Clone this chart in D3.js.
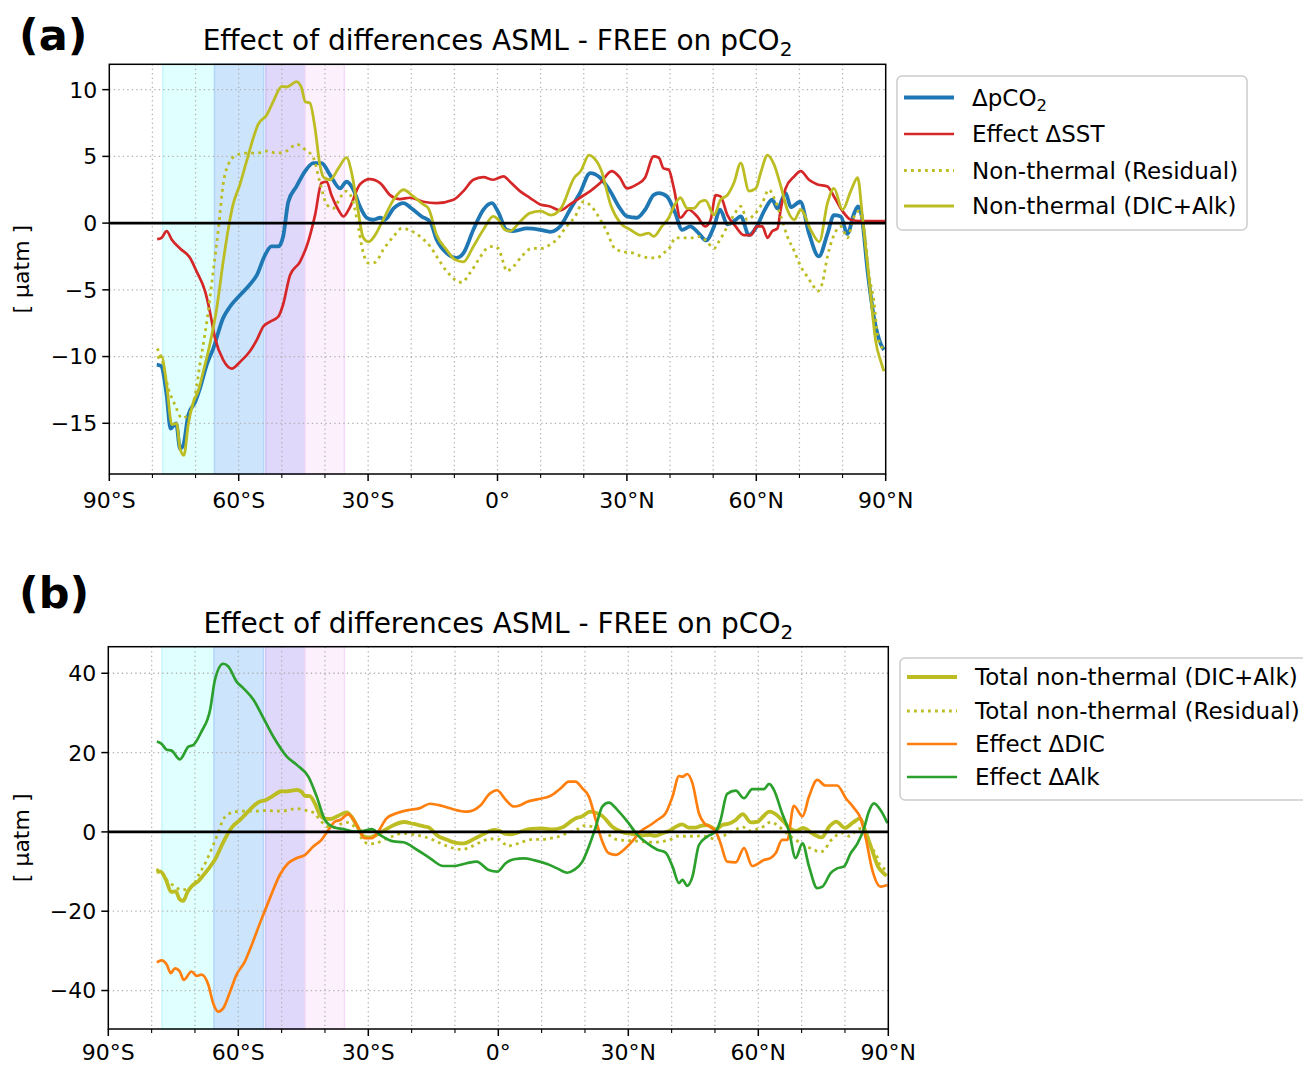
<!DOCTYPE html>
<html><head><meta charset="utf-8">
<script src="https://cdn.jsdelivr.net/npm/d3@7"></script>
<style>body{margin:0;background:#fff}</style>
</head><body><svg id="c" width="1303" height="1066"></svg>
<script>
// ---------- DATA (latitude, value) ----------
const dpco2 = [[-79,-10.6],[-78,-10.7],[-76.7,-12.9],[-75.8,-15.4],[-74.5,-15],[-73.6,-16.9],[-72.8,-16.6],[-71.7,-14.4],[-70.1,-13.4],[-69,-12.4],[-67.4,-10.6],[-65.9,-9.4],[-63.6,-7.1],[-62,-6.25],[-59.7,-5.4],[-57.4,-4.6],[-55.8,-3.9],[-53.9,-2.4],[-52.4,-1.75],[-50.8,-1.75],[-49.7,-1],[-48.5,1.6],[-46.6,2.75],[-44.6,3.9],[-42.7,4.5],[-40.8,4.5],[-38.8,3.6],[-36.5,2.6],[-35,3.1],[-33.4,2.5],[-31.9,1.25],[-30.3,0.4],[-28.8,0.25],[-27.2,0.4],[-26.1,0.25],[-24.1,1.1],[-21.8,1.5],[-19.9,1.1],[-17.6,0.5],[-15.6,0.1],[-14.1,-1.25],[-11.8,-2.25],[-9.5,-2.6],[-7.9,-2.25],[-5.6,-0.5],[-3.3,1.0],[-1.3,1.5],[0.2,0.8],[2.1,-0.5],[3.7,-0.6],[6.8,-0.4],[9.9,-0.5],[12.2,-0.65],[14.5,-0.25],[16.8,1.0],[19.1,2.25],[21.5,3.75],[23.8,3.4],[26.1,2.4],[28.4,1.1],[30,0.5],[32.3,0.4],[34.2,1.0],[36.2,2.1],[37.4,2.25],[39.3,2.0],[41.2,0.75],[42.8,-0.5],[44.7,-0.25],[46.6,-0.75],[48.4,-1.3],[50.2,-0.25],[51.6,1.0],[53.3,-0.1],[55.2,0.25],[56.4,0.5],[58.3,-0.9],[60.2,-0.2],[61.8,0.9],[63.7,1.75],[64.9,1.1],[66.8,2.25],[68,1.2],[70.2,1.6],[72.2,-0.75],[74.5,-2.5],[76.5,-0.8],[78,0.6],[79.6,0.5],[81.1,-0.8],[82.7,0.75],[83.6,1.25],[84.4,0.6],[85.8,-3.6],[87.3,-7.1],[88.9,-9.1],[89.6,-9.5]];

const sstEffect = [[-78.9,-1.2],[-77.9,-1.1],[-76.7,-0.6],[-75.5,-1.25],[-73.6,-1.9],[-71.3,-2.6],[-69.8,-3.6],[-67.8,-5.1],[-66.7,-6.6],[-65.5,-8.6],[-63.6,-10.25],[-61.6,-10.9],[-59.7,-10.4],[-57.4,-9.6],[-55.8,-8.75],[-54.3,-7.75],[-52.8,-7.4],[-50.8,-7.0],[-49.7,-6.1],[-48.1,-3.9],[-45.8,-2.9],[-43.9,-1.4],[-42.3,0.6],[-40.8,3.0],[-39.6,3.1],[-38.5,2.1],[-36.9,1.0],[-35.7,0.5],[-34.2,1.2],[-31.9,2.9],[-29.6,3.3],[-27.2,3.0],[-24.9,2.1],[-22.6,1.8],[-20.3,1.9],[-17.2,1.6],[-14.1,1.5],[-10.2,1.75],[-7.9,2.4],[-5.6,3.25],[-3.3,3.45],[-1,3.25],[1.4,3.5],[2.9,3.1],[5.2,2.4],[7.5,1.9],[9.9,1.4],[12.2,1.25],[14.5,0.95],[16.8,1.4],[19.1,1.9],[21.5,2.4],[23.8,3.0],[26.5,3.9],[28.4,3.4],[30,2.6],[32.3,2.9],[34.2,3.4],[36.2,5.0],[37.4,4.9],[38.5,4.1],[39.7,4.0],[40.9,2.6],[42.4,0.4],[44.3,1.0],[46.3,0.5],[48.2,-0.25],[49.4,0.25],[50.6,2.1],[51.7,2.0],[53.3,0.6],[55.2,-0.25],[57.1,-0.9],[58.7,-0.9],[60.2,-0.25],[61.4,-0.25],[62.6,-1.1],[63.7,-0.6],[64.9,-0.4],[65.7,1.1],[66.8,2.6],[68.8,3.5],[70.3,3.9],[72.2,3.25],[74.2,2.9],[76.5,2.75],[78,2.0],[80,0.9],[81.9,0.25],[84.2,0.15],[90,0.15]];

const nonThermalDicAlk = [[-78.9,-10.1],[-77.9,-10],[-76.7,-12.1],[-75.5,-15.1],[-74.4,-15],[-73.6,-16.9],[-72.7,-17.4],[-71.7,-15.1],[-70.5,-13.4],[-69.4,-12.6],[-68.2,-11.1],[-66.7,-9.1],[-65.1,-6.4],[-63.6,-2.9],[-62.4,-0.4],[-61.3,1.4],[-59.7,2.9],[-58.2,4.6],[-56.6,6.4],[-55.5,7.4],[-53.5,8.1],[-52,9.1],[-50,10.25],[-48.9,10.2],[-47.7,10.4],[-46.6,10.6],[-45.4,10.1],[-44.6,9.1],[-43.5,9.0],[-42.3,7.1],[-41.2,4.4],[-40.2,3.4],[-38.8,3.25],[-36.9,4.1],[-35,4.9],[-33.8,3.75],[-32.6,1.5],[-31.1,-1.1],[-29.9,-1.4],[-28.8,-1.1],[-26.5,0.25],[-24.1,1.75],[-21.8,2.5],[-19.5,2.0],[-17.2,1.4],[-16,1.1],[-14.1,-0.9],[-11.8,-2.0],[-9.8,-2.75],[-7.9,-2.9],[-5.6,-1.75],[-3.3,-0.5],[-1,0.5],[0.2,0.25],[1.7,-0.5],[2.9,-0.6],[5.2,0.1],[7.5,0.75],[10,0.9],[12.4,0.6],[14.7,1.1],[17.8,3.4],[19.3,3.9],[21.2,5.1],[22.3,4.9],[24,4.0],[26.3,1.3],[28.5,0],[30.8,-0.5],[33.1,-0.9],[35,-0.75],[36.2,-1.0],[38.1,-0.25],[39.7,0.4],[40.9,1.25],[42.4,1.9],[44,1.1],[45.5,1.1],[47,1.6],[48.2,1.7],[50.2,0.6],[51.7,1.75],[53.3,2.1],[54.8,3.0],[56.4,4.5],[58.3,2.4],[59.9,2.6],[61,3.75],[62.6,5.1],[64.1,4.4],[65.7,2.75],[67.2,1.0],[68.8,0.25],[70.3,1.0],[72.6,-0.5],[74.6,-1.4],[76.5,1.5],[78,2.6],[80,1.0],[81.9,2.4],[83.5,3.4],[84.6,0.5],[86.2,-4.4],[87.7,-8.9],[88.9,-10.4],[89.6,-11.1]];

const nonThermalResidual = [[-78.9,-9.4],[-77.9,-10.1],[-76.3,-12.4],[-74.8,-13.6],[-73.2,-14.6],[-71.7,-14.4],[-70.1,-12.9],[-69,-10.6],[-67.4,-7.4],[-65.9,-3.6],[-64.7,-0.4],[-63.6,2.9],[-62.4,4.4],[-60.5,5.1],[-58.2,5.25],[-55.8,5.25],[-53.5,5.4],[-51.2,5.25],[-48.9,5.4],[-46.6,5.9],[-44.6,5.5],[-42.7,4.9],[-41.2,3.1],[-39.6,1.4],[-38.1,1.1],[-36.3,2.0],[-35,2.4],[-33.4,1.5],[-32.3,-0.25],[-31.1,-2.25],[-29.9,-3.0],[-28.4,-2.95],[-26.5,-2.0],[-24.1,-1.0],[-22.2,-0.4],[-19.9,-0.6],[-17.6,-1.1],[-15.6,-1.75],[-14.1,-2.5],[-11.8,-3.6],[-9.8,-4.25],[-8.3,-4.45],[-6.4,-3.75],[-4.4,-2.75],[-2.5,-1.9],[-1,-1.75],[0.2,-1.9],[1.4,-3.0],[2.1,-3.6],[3.7,-3.25],[5.6,-2.5],[7.9,-1.9],[10.3,-1.9],[12.2,-1.6],[13.7,-1.25],[16,-0.25],[18,0.5],[19.9,1.6],[21.8,1.25],[23.4,0.5],[25.3,-0.6],[27.2,-1.9],[29.2,-2.15],[31.5,-2.25],[33.5,-2.5],[35.5,-2.6],[37,-2.6],[38.5,-2.25],[40.1,-1.75],[41.2,-1.1],[43.2,-1.1],[45.1,-1.1],[47,-1.0],[48.6,-1.4],[50.2,-1.9],[51.3,-1.4],[53.3,-0.25],[54.8,0.6],[56.4,1.25],[57.9,0.25],[59.4,0.6],[61.4,1.5],[62.9,2.5],[64.1,1.9],[65.7,0.5],[67.2,-1.0],[68.8,-2.1],[70.3,-3.25],[71.8,-4.0],[73,-4.6],[74.2,-5.1],[75.3,-4.5],[76.5,-2.5],[78,-0.9],[79.6,-0.25],[81.1,-1.1],[82.7,0.5],[83.8,0.9],[85,-0.5],[86.2,-4.0],[87.3,-5.9],[88.1,-8.4],[89.3,-9.4]];

const dicEffect = [[-78.8,-32.9],[-77.7,-32.4],[-76.5,-33.5],[-75.6,-35.6],[-74.6,-34.4],[-73.5,-35.2],[-72.6,-37.3],[-70.8,-35.2],[-69.6,-36.3],[-68.5,-36],[-66.9,-38.6],[-65.8,-43.2],[-64.6,-45.3],[-63.5,-44.5],[-61.9,-40.3],[-60.4,-36],[-58.5,-32.7],[-56.9,-28.5],[-55,-23],[-52.7,-16.7],[-50.4,-10.8],[-48.5,-7.9],[-46.5,-6.6],[-44.6,-5.8],[-42.7,-3.7],[-40.8,-2.0],[-39.2,0.5],[-37.7,2.6],[-36.5,3.0],[-34.6,4.5],[-32.7,1.8],[-30.8,-1.6],[-29.2,-1.6],[-27.7,0.1],[-25.8,3.4],[-23.5,4.7],[-20.8,5.5],[-18.1,6.0],[-15.8,7.1],[-13.1,6.6],[-10.4,5.7],[-7.3,5.1],[-4.2,6.6],[-1.9,9.7],[-0.3,10.5],[1.7,8.1],[3.6,6.4],[5.2,6.8],[6.7,7.6],[9,8.2],[12.1,9.1],[14.4,11],[16.3,12.7],[17.8,12.7],[19.4,11],[20.9,8.9],[22.5,3.0],[24,-2.4],[25.5,-5.4],[27.1,-5.8],[29,-4.5],[30.9,-2.4],[32.8,0.1],[35.2,1.8],[36.7,3.0],[38.6,4.7],[40.2,8.9],[41.7,14.1],[42.5,13.9],[43.6,14.6],[44.8,12.3],[46.3,4.7],[47.5,2.2],[49,1.2],[50.2,0.1],[51.3,-2.9],[52.8,-7.5],[54.8,-7.7],[56.7,-4.1],[58.6,-8.6],[61.3,-7.1],[62.8,-6.6],[64,-5.4],[65.5,-2.0],[66.7,-2.0],[68.2,6.6],[70.2,3.9],[71.7,8.9],[73.6,13.1],[75.5,11.7],[78.2,11.7],[80.2,8.5],[82.1,6.0],[83.6,3.4],[84.8,-1.6],[86.3,-9.6],[88.2,-13.8],[89.8,-13.4]];

const alkEffect = [[-78.8,22.8],[-77.7,22.2],[-76.5,20.7],[-75.4,20.5],[-73.5,18.3],[-71.5,21.5],[-70.4,21.9],[-68.5,25.3],[-66.5,30.8],[-65.4,38.3],[-63.5,42.4],[-62.3,41.7],[-60.4,37.9],[-58.8,36.2],[-56.5,33.3],[-54.2,28.7],[-51.9,24],[-48.8,19],[-46.5,16.9],[-43.8,13.9],[-41.9,8.9],[-40,3.0],[-38,1.2],[-35.7,0.7],[-33.4,0.1],[-31.1,0.3],[-29.2,0.7],[-27.3,-0.75],[-24.2,-2.4],[-21.9,-2.6],[-18.8,-4.5],[-15.8,-6.6],[-12.7,-8.6],[-10.4,-8.6],[-7.3,-7.9],[-5,-7.5],[-2.2,-9.6],[-0.2,-10],[1.7,-7.9],[3.6,-6.9],[5.9,-6.7],[8.2,-7.1],[11.3,-8.1],[13.6,-9.2],[15.9,-10.3],[17.5,-9.6],[19.4,-7.5],[20.9,-3.7],[22.5,1.3],[24,6.4],[25.5,7.4],[27.5,5.5],[29.8,2.6],[32.1,-0.75],[34.4,-2.9],[36.7,-4.5],[38.6,-5.2],[40.2,-8.7],[41.7,-12.9],[42.5,-12.1],[43.6,-13.6],[44.8,-11.3],[46.3,-3.3],[48.2,-1.2],[50.2,0.1],[51.3,3.0],[52.8,9.6],[54.8,10.4],[56.7,8.5],[58.6,10.8],[61.3,10.8],[62.5,12.1],[63.6,10.6],[65.5,4.7],[67.1,0.1],[68.6,-6.6],[70.2,-2.9],[71.7,-8.7],[73.6,-14.2],[74.8,-13.8],[76.7,-10.4],[78.2,-9.2],[79.8,-8.7],[81.3,-5.4],[82.9,-2.9],[84.4,0.9],[85.5,5.1],[86.7,7.2],[88.2,5.5],[89.8,2.2]];

// latitude bands (shaded regions)
const bandLats = [[-77.6,-65.6],[-65.6,-54.2],[-53.7,-44.6],[-44.6,-35.5]];
const bandColors = ["#e0ffff","#cce5fd","#e0d8fb","#fcf0fd"];
const bandEdges = ["#c6f9fb","#b5d5f9","#cdc2f6","#f4dcf8"];

const xTickVals = [-90,-60,-30,0,30,60,90];
const xTickLabels = ["90°S","60°S","30°S","0°","30°N","60°N","90°N"];
const yTicksA = [-15,-10,-5,0,5,10];
const yTicksB = [-40,-20,0,20,40];

const svg = d3.select("#c").attr("font-family","DejaVu Sans, sans-serif");
svg.append("rect").attr("width",1303).attr("height",1066).attr("fill","#fff");

let clipId = 0;
function panel(cfg){
  const x = d3.scaleLinear().domain([-90,90]).range([cfg.x0,cfg.x1]);
  const y = d3.scaleLinear().domain(cfg.ydom).range([cfg.y1,cfg.y0]);
  const g = svg.append("g");
  const cid = "clip"+(clipId++);
  g.append("clipPath").attr("id",cid).append("rect")
    .attr("x",cfg.x0).attr("y",cfg.y0).attr("width",cfg.x1-cfg.x0).attr("height",cfg.y1-cfg.y0);
  // bands
  bandLats.forEach((b,i)=>{
    g.append("rect").attr("x",x(b[0])).attr("width",x(b[1])-x(b[0]))
      .attr("y",cfg.y0).attr("height",cfg.y1-cfg.y0)
      .attr("fill",bandColors[i]).attr("stroke",bandEdges[i]).attr("stroke-width",1.5);
  });
  // grid
  const gridStyle = s=>s.attr("stroke","#b0b0b0").attr("stroke-width",1.3).attr("stroke-dasharray","1.3,3.2");
  d3.range(-80,90,10).forEach(v=>{
    g.append("line").attr("x1",x(v)).attr("x2",x(v)).attr("y1",cfg.y0).attr("y2",cfg.y1).call(gridStyle);
  });
  cfg.yticks.forEach(v=>{
    g.append("line").attr("x1",cfg.x0).attr("x2",cfg.x1).attr("y1",y(v)).attr("y2",y(v)).call(gridStyle);
  });
  // series
  const line = d3.line().x(d=>x(d[0])).y(d=>y(d[1])).curve(d3.curveMonotoneX);
  const lg = g.append("g").attr("clip-path",`url(#${cid})`);
  cfg.series.forEach(s=>{
    lg.append("path").datum(s.data).attr("d",line).attr("fill","none")
      .attr("stroke",s.color).attr("stroke-width",s.w)
      .attr("stroke-dasharray",s.dash||null).attr("stroke-linejoin","round");
  });
  // zero line
  g.append("line").attr("x1",cfg.x0).attr("x2",cfg.x1).attr("y1",y(0)).attr("y2",y(0))
    .attr("stroke","#000").attr("stroke-width",2.6);
  // frame
  g.append("rect").attr("x",cfg.x0).attr("y",cfg.y0).attr("width",cfg.x1-cfg.x0).attr("height",cfg.y1-cfg.y0)
    .attr("fill","none").attr("stroke","#000").attr("stroke-width",1.5);
  // x ticks
  d3.range(-90,91,10).forEach(v=>{
    const major = v%30===0;
    g.append("line").attr("x1",x(v)).attr("x2",x(v)).attr("y1",cfg.y1).attr("y2",cfg.y1+(major?7:4))
      .attr("stroke","#000").attr("stroke-width",major?1.5:1.1);
  });
  xTickVals.forEach((v,i)=>{
    g.append("text").attr("x",x(v)).attr("y",cfg.y1+cfg.xlabOff).attr("text-anchor","middle")
      .attr("font-size",22).text(xTickLabels[i]);
  });
  // y ticks
  const fmt = d3.format("d");
  cfg.yticks.forEach(v=>{
    g.append("line").attr("x1",cfg.x0-7).attr("x2",cfg.x0).attr("y1",y(v)).attr("y2",y(v))
      .attr("stroke","#000").attr("stroke-width",1.5);
    g.append("text").attr("x",cfg.x0-12).attr("y",y(v)).attr("dy","0.36em").attr("text-anchor","end")
      .attr("font-size",22).text(fmt(v));
  });
  // y label
  const cy=(cfg.y0+cfg.y1)/2;
  g.append("text").attr("transform",`translate(29,${cy}) rotate(-90)`).attr("text-anchor","middle")
    .attr("font-size",22).text("[ µatm ]");
  // title
  const t = g.append("text").attr("x",(cfg.x0+cfg.x1)/2).attr("y",cfg.y0-14).attr("text-anchor","middle")
    .attr("font-size",28);
  t.append("tspan").text("Effect of differences ASML - FREE on pCO");
  t.append("tspan").attr("font-size",20).attr("dy",6).text("2");
  // panel label
  g.append("text").attr("x",19).attr("y",cfg.labelY).attr("font-size",43).attr("font-weight","bold").text(cfg.label);
  // legend
  const L = cfg.legend;
  g.append("rect").attr("x",L.x).attr("y",L.y).attr("width",L.w).attr("height",L.h).attr("rx",5)
    .attr("fill","#fff").attr("fill-opacity",0.85).attr("stroke","#cccccc").attr("stroke-width",1.5);
  L.items.forEach((it,i)=>{
    const ry = L.rows[i];
    g.append("line").attr("x1",L.hx0).attr("x2",L.hx1).attr("y1",ry).attr("y2",ry)
      .attr("stroke",it.color).attr("stroke-width",it.w).attr("stroke-dasharray",it.dash||null);
    const tx = g.append("text").attr("x",L.tx).attr("y",ry).attr("dy","0.36em").attr("font-size",23);
    it.label.forEach(p=>{
      const sp = tx.append("tspan").text(p.t);
      if(p.sub) sp.attr("font-size",16.5).attr("dy",5);
    });
  });
}

const C = {blue:"#1f77b4",red:"#d62728",olive:"#bcbd22",orange:"#ff7f0e",green:"#2ca02c"};

panel({
  x0:109.3,x1:885.7,y0:64.3,y1:474,ydom:[-18.8,11.9],yticks:yTicksA,label:"(a)",labelY:50,xlabOff:34,
  series:[
    {data:dpco2,color:C.blue,w:3.8},
    {data:sstEffect,color:C.red,w:2.7},
    {data:nonThermalResidual,color:C.olive,w:2.8,dash:"2.8,4.2"},
    {data:nonThermalDicAlk,color:C.olive,w:2.8}
  ],
  legend:{x:897,y:76,w:350,h:154,hx0:904,hx1:954,tx:972,rows:[97.5,134,170.5,206],
    items:[
      {color:C.blue,w:3.8,label:[{t:"ΔpCO"},{t:"2",sub:true}]},
      {color:C.red,w:2.7,label:[{t:"Effect ΔSST"}]},
      {color:C.olive,w:2.8,dash:"2.8,4.2",label:[{t:"Non-thermal (Residual)"}]},
      {color:C.olive,w:2.8,label:[{t:"Non-thermal (DIC+Alk)"}]}
    ]}
});

panel({
  x0:108.3,x1:888.3,y0:646.7,y1:1029,ydom:[-49.7,46.7],yticks:yTicksB,label:"(b)",labelY:608,xlabOff:31,
  series:[
    {data:nonThermalDicAlk,color:C.olive,w:3.8},
    {data:nonThermalResidual,color:C.olive,w:2.8,dash:"2.8,4.2"},
    {data:dicEffect,color:C.orange,w:2.7},
    {data:alkEffect,color:C.green,w:2.7}
  ],
  legend:{x:900,y:658,w:420,h:142,hx0:907,hx1:957,tx:975,rows:[677,711,744,777],
    items:[
      {color:C.olive,w:3.8,label:[{t:"Total non-thermal (DIC+Alk)"}]},
      {color:C.olive,w:2.8,dash:"2.8,4.2",label:[{t:"Total non-thermal (Residual)"}]},
      {color:C.orange,w:2.7,label:[{t:"Effect ΔDIC"}]},
      {color:C.green,w:2.7,label:[{t:"Effect ΔAlk"}]}
    ]}
});
</script></body></html>
